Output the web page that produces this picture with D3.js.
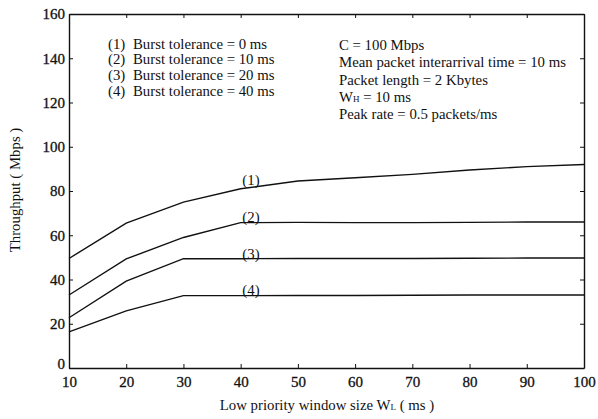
<!DOCTYPE html>
<html>
<head>
<meta charset="utf-8">
<script src="https://cdn.jsdelivr.net/npm/d3@7"></script>
<style>
  body { margin: 0; background: #fff; }
  svg { display: block; font-family: "Liberation Serif", "Times New Roman", serif; }
</style>
</head>
<body>
<div id="chart"></div>
<script>
// window size WL (ms)
const windowSizes = [10, 20, 30, 40, 50, 60, 70, 80, 90, 100];
// throughput (Mbps) for each burst tolerance
const burst0  = [49.5, 65.5, 75, 81, 84.5, 86, 87.5, 89.5, 91, 92];
const burst10 = [33, 49.3, 59, 65.7, 65.8, 65.7, 65.7, 65.8, 66, 66];
const burst20 = [22.7, 39.3, 49.4, 49.4, 49.5, 49.5, 49.5, 49.6, 49.7, 49.7];
const burst40 = [16.3, 25.8, 32.7, 32.7, 32.8, 32.8, 32.9, 33, 33, 33];
const curveLabels = ["(1)", "(2)", "(3)", "(4)"];
const labelX = 41.8;
const labelY = [85, 68.4, 51.8, 35.3];
const xTicks = [10, 20, 30, 40, 50, 60, 70, 80, 90, 100];
const yTicks = [0, 20, 40, 60, 80, 100, 120, 140, 160];
const legendLines = [
  "(1)|Burst tolerance = 0 ms",
  "(2)|Burst tolerance = 10 ms",
  "(3)|Burst tolerance = 20 ms",
  "(4)|Burst tolerance = 40 ms"
];
const paramLines = [
  "C = 100 Mbps",
  "Mean packet interarrival time = 10 ms",
  "Packet length = 2 Kbytes",
  "W_H = 10 ms",
  "Peak rate = 0.5 packets/ms"
];

const width = 598, height = 419;
const mLeft = 69, mRight = 584, mTop = 14, mBottom = 368;
const fs = "14.8px";

const svg = d3.select("#chart").append("svg")
  .attr("width", width)
  .attr("height", height);

const x = d3.scaleLinear().domain([10, 100]).range([mLeft, mRight]);
const y = d3.scaleLinear().domain([0, 160]).range([mBottom, mTop]);

// axes, ticks pointing inward
const styleAxis = g => {
  g.selectAll("path").attr("stroke", "#111").attr("stroke-width", 1.4);
  g.selectAll("line").attr("stroke", "#111").attr("stroke-width", 1);
  g.selectAll("text").attr("fill", "#111").style("font-size", "15px")
    .style("font-family", "'Liberation Serif', serif")
    .attr("stroke", "#111").attr("stroke-width", 0.3);
};

svg.append("g")
  .attr("transform", `translate(0,${mBottom})`)
  .call(d3.axisBottom(x).tickValues(xTicks).tickSizeInner(-4).tickSizeOuter(0).tickPadding(8))
  .call(styleAxis);

svg.append("g")
  .attr("transform", `translate(${mLeft},0)`)
  .call(d3.axisLeft(y).tickValues(yTicks).tickSizeInner(-4).tickSizeOuter(0).tickPadding(4))
  .call(styleAxis)
  .call(g => g.selectAll(".tick text").filter(d => d === 0).attr("y", -4));

svg.append("g")
  .attr("transform", `translate(0,${mTop})`)
  .call(d3.axisTop(x).tickValues(xTicks).tickSizeInner(-4).tickSizeOuter(0).tickFormat(""))
  .call(styleAxis);

svg.append("g")
  .attr("transform", `translate(${mRight},0)`)
  .call(d3.axisRight(y).tickValues(yTicks).tickSizeInner(-4).tickSizeOuter(0).tickFormat(""))
  .call(styleAxis);

// curves
const series = [burst0, burst10, burst20, burst40];
const line = d3.line()
  .x((d, i) => x(windowSizes[i]))
  .y(d => y(d));

svg.selectAll(".curve")
  .data(series)
  .join("path")
  .attr("class", "curve")
  .attr("d", line)
  .attr("fill", "none")
  .attr("stroke", "#111")
  .attr("stroke-width", 1.4);

svg.selectAll(".clabel")
  .data(curveLabels)
  .join("text")
  .attr("class", "clabel")
  .attr("x", x(labelX))
  .attr("y", (d, i) => y(labelY[i]))
  .attr("dy", "0.35em")
  .attr("text-anchor", "middle")
  .style("font-size", fs)
  .attr("fill", "#111")
  .text(d => d);

// legend on the left
const legend = svg.append("g");
legendLines.forEach((s, i) => {
  const [num, txt] = s.split("|");
  legend.append("text")
    .attr("x", 108).attr("y", 43.5 + i * 15.8).attr("dy", "0.35em")
    .style("font-size", fs).attr("fill", "#111")
    .text(num);
  legend.append("text")
    .attr("x", 133).attr("y", 43.5 + i * 15.8).attr("dy", "0.35em")
    .style("font-size", fs).attr("fill", "#111")
    .text(txt);
});

// parameters on the right
paramLines.forEach((s, i) => {
  const t = svg.append("text")
    .attr("x", 339).attr("y", 44.7 + i * 17.4).attr("dy", "0.35em")
    .style("font-size", fs).attr("fill", "#111");
  if (s.startsWith("W_H")) {
    t.append("tspan").text("W");
    t.append("tspan").style("font-size", "9px").text("H");
    t.append("tspan").text("  = 10 ms");
  } else {
    t.text(s);
  }
});

// axis titles
svg.append("text")
  .attr("transform", "translate(15,190) rotate(-90)")
  .attr("text-anchor", "middle")
  .attr("dy", "0.35em")
  .style("font-size", fs).attr("fill", "#111")
  .text("Throughput ( Mbps )");

const xt = svg.append("text")
  .attr("x", 327).attr("y", 405)
  .attr("text-anchor", "middle")
  .attr("dy", "0.35em")
  .style("font-size", fs).attr("fill", "#111");
xt.append("tspan").text("Low priority window size  W");
xt.append("tspan").style("font-size", "9px").text("L");
xt.append("tspan").text("  ( ms )");
</script>
</body>
</html>
